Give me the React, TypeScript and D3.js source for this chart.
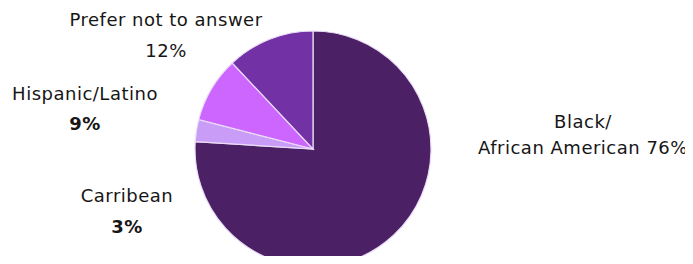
import { useEffect, useRef } from "react";
import * as d3 from "d3";

// data
const categories = ["Black/African American", "Carribean", "Hispanic/Latino", "Prefer not to answer"];
const values = [76, 3, 9, 12];
const colors = ["#4b2064", "#c99cf7", "#cc66ff", "#7231a5"];

// label lines: [text, x, y, bold]
const labels: [string, number, number, boolean][] = [
  ["Prefer not to answer", 166, 26, false],
  ["12%", 166, 57, false],
  ["Hispanic/Latino", 85, 100, false],
  ["9%", 85, 130, true],
  ["Carribean", 127, 202, false],
  ["3%", 127, 233, true],
  ["Black/", 583, 128, false],
  ["African American 76%", 583, 154, false],
];

const App = () => {
  const ref = useRef<HTMLDivElement>(null);

  useEffect(() => {
    const width = 693;
    const height = 264;
    const cx = 313;
    const cy = 149;
    const r = 118;

    const root = d3.select(ref.current);
    root.selectAll("*").remove();

    const svg = root
      .append("svg")
      .attr("width", width)
      .attr("height", height)
      .style("display", "block");

    const pie = d3.pie<number>().sort(null).value((d) => d);
    const arc = d3.arc<d3.PieArcDatum<number>>().innerRadius(0).outerRadius(r);

    svg
      .append("g")
      .attr("transform", `translate(${cx},${cy})`)
      .selectAll("path")
      .data(pie(values))
      .join("path")
      .attr("d", arc)
      .attr("fill", (_, i) => colors[i])
      .attr("stroke", "#eadcf7")
      .attr("stroke-width", 1.2)
      .append("title")
      .text((_, i) => categories[i]);

    svg
      .append("g")
      .selectAll("text")
      .data(labels)
      .join("text")
      .attr("x", (d) => d[1])
      .attr("y", (d) => d[2])
      .attr("text-anchor", "middle")
      .attr("font-family", "DejaVu Sans")
      .attr("font-size", 18)
      .attr("letter-spacing", 0.5)
      .attr("font-weight", (d) => (d[3] ? 600 : 400))
      .attr("fill", "#161616")
      .text((d) => d[0]);
  }, []);

  return <div ref={ref} style={{ margin: "-8px" }} />;
};

export default App;
